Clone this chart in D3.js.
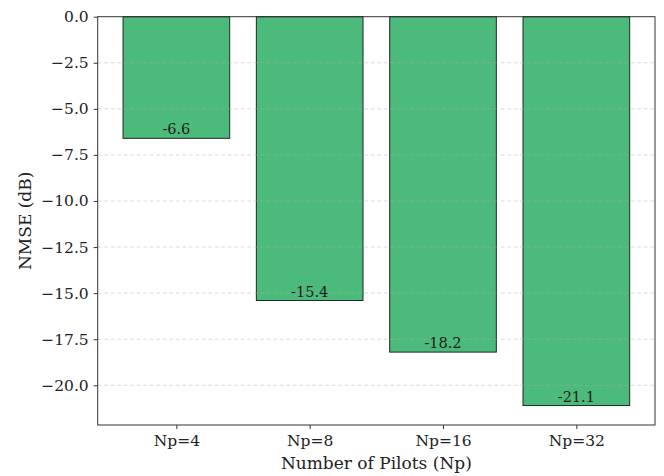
<!DOCTYPE html>
<html>
<head>
<meta charset="utf-8">
<script src="https://cdn.jsdelivr.net/npm/d3@7"></script>
<style>
  html, body { margin: 0; padding: 0; background: #fff; }
  svg { display: block; font-family: "DejaVu Serif", serif; }
</style>
</head>
<body>
<svg id="chart" width="664" height="476"></svg>
<script>
const categories = ["Np=4", "Np=8", "Np=16", "Np=32"];
const nmseValues = [-6.6, -15.4, -18.2, -21.1];
const yTicks = [0, -2.5, -5, -7.5, -10, -12.5, -15, -17.5, -20];
const xLabel = "Number of Pilots (Np)";
const yLabel = "NMSE (dB)";

const svg = d3.select("#chart");
const mLeft = 97.7, mRight = 655, mTop = 16.7, mBottom = 425;

const minVal = d3.min(nmseValues);
const y = d3.scaleLinear().domain([0, minVal * 1.05]).range([mTop, mBottom]);
const x = d3.scaleLinear().domain([-0.59, categories.length - 1 + 0.59]).range([mLeft, mRight]);
const barW = x(0.4) - x(-0.4);

// bars
svg.append("g").selectAll("rect").data(nmseValues).join("rect")
  .attr("x", (d, i) => x(i) - barW / 2)
  .attr("y", y(0))
  .attr("width", barW)
  .attr("height", d => y(d) - y(0))
  .attr("fill", "#4bba7a")
  .attr("stroke", "#1e2b22")
  .attr("stroke-width", 1);

// grid (drawn over bars, translucent)
svg.append("g").selectAll("line").data(yTicks.filter(t => t !== 0)).join("line")
  .attr("x1", mLeft).attr("x2", mRight)
  .attr("y1", d => y(d)).attr("y2", d => y(d))
  .attr("stroke", "#b0b0b0")
  .attr("stroke-opacity", 0.55)
  .attr("stroke-width", 0.8)
  .attr("stroke-dasharray", "4,2.5");

// bar value labels
svg.append("g").selectAll("text").data(nmseValues).join("text")
  .attr("x", (d, i) => x(i))
  .attr("y", d => y(d) - 4)
  .attr("text-anchor", "middle")
  .attr("font-size", 14.5)
  .attr("fill", "#1a1a1a")
  .text(d => d.toFixed(1));

// axes
const yAxis = d3.axisLeft(y).tickValues(yTicks).tickFormat(d3.format(".1f")).tickSize(4).tickPadding(5);
const gy = svg.append("g").attr("transform", `translate(${mLeft},0)`).call(yAxis);
gy.select(".domain").remove();
gy.selectAll(".tick line").attr("stroke", "#333");
gy.selectAll(".tick text").attr("font-size", 15.5).attr("fill", "#222").attr("font-family", "DejaVu Serif");

const xAxis = d3.axisBottom(x).tickValues(d3.range(categories.length)).tickFormat(i => categories[i]).tickSize(4).tickPadding(6);
const gx = svg.append("g").attr("transform", `translate(0,${mBottom})`).call(xAxis);
gx.select(".domain").remove();
gx.selectAll(".tick line").attr("stroke", "#333");
gx.selectAll(".tick text").attr("font-size", 15.5).attr("fill", "#222").attr("font-family", "DejaVu Serif");

// frame
svg.append("rect")
  .attr("x", mLeft).attr("y", mTop)
  .attr("width", mRight - mLeft).attr("height", mBottom - mTop)
  .attr("fill", "none").attr("stroke", "#333").attr("stroke-width", 1);

// axis titles
svg.append("text")
  .attr("x", (mLeft + mRight) / 2).attr("y", 469)
  .attr("text-anchor", "middle")
  .attr("font-size", 17)
  .attr("fill", "#222")
  .text(xLabel);

svg.append("text")
  .attr("transform", `translate(31,${(mTop + mBottom) / 2}) rotate(-90)`)
  .attr("text-anchor", "middle")
  .attr("font-size", 17)
  .attr("fill", "#222")
  .text(yLabel);
</script>
</body>
</html>
